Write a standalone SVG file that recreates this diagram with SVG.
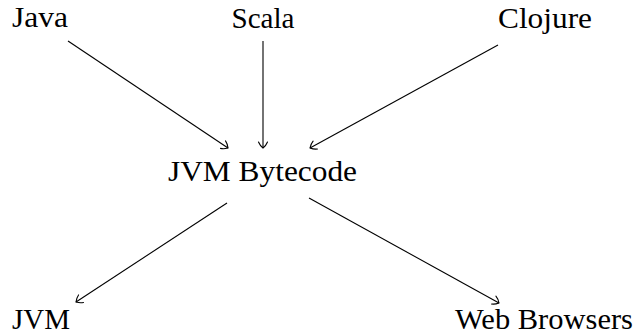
<svg xmlns="http://www.w3.org/2000/svg" width="636" height="336" viewBox="0 0 636 336">
  <style>
    .lbl { font-family: "Liberation Serif", "Times New Roman", serif; font-size: 29px; fill: #000; text-anchor: middle; }
    .edge { stroke: #000; stroke-width: 1.1; fill: none; marker-end: url(#arr); }
  </style>
  <defs>
    <marker id="arr" markerUnits="userSpaceOnUse" markerWidth="14" markerHeight="14" viewBox="-8 -7 10 14" refX="0" refY="0" orient="auto">
      <path d="M -6,-4.5 C -3.5,-3.5 -1,-1.2 0,0 C -1,1.2 -3.5,3.5 -6,4.5" fill="none" stroke="#000" stroke-width="1.1" stroke-linecap="round"/>
    </marker>
  </defs>
  <rect width="636" height="336" fill="#fff"/>
  <g id="connectors">
    <line class="edge" x1="68" y1="41" x2="228" y2="148"/>
    <line class="edge" x1="263" y1="41" x2="263" y2="148"/>
    <line class="edge" x1="498" y1="45" x2="310" y2="148"/>
    <line class="edge" x1="227" y1="203" x2="76" y2="302"/>
    <line class="edge" x1="309" y1="198" x2="499" y2="303"/>
  </g>
  <g id="java"><text class="lbl" x="40" y="27" textLength="56" lengthAdjust="spacingAndGlyphs">Java</text></g>
  <g id="scala"><text class="lbl" x="263" y="28" textLength="63" lengthAdjust="spacingAndGlyphs">Scala</text></g>
  <g id="clojure"><text class="lbl" x="545" y="28" textLength="94" lengthAdjust="spacingAndGlyphs">Clojure</text></g>
  <g id="bytecode"><text class="lbl" x="262.5" y="181" textLength="189" lengthAdjust="spacingAndGlyphs">JVM Bytecode</text></g>
  <g id="jvm"><text class="lbl" x="41" y="329" textLength="58" lengthAdjust="spacingAndGlyphs">JVM</text></g>
  <g id="web"><text class="lbl" x="544" y="329" textLength="178" lengthAdjust="spacingAndGlyphs">Web Browsers</text></g>
</svg>
